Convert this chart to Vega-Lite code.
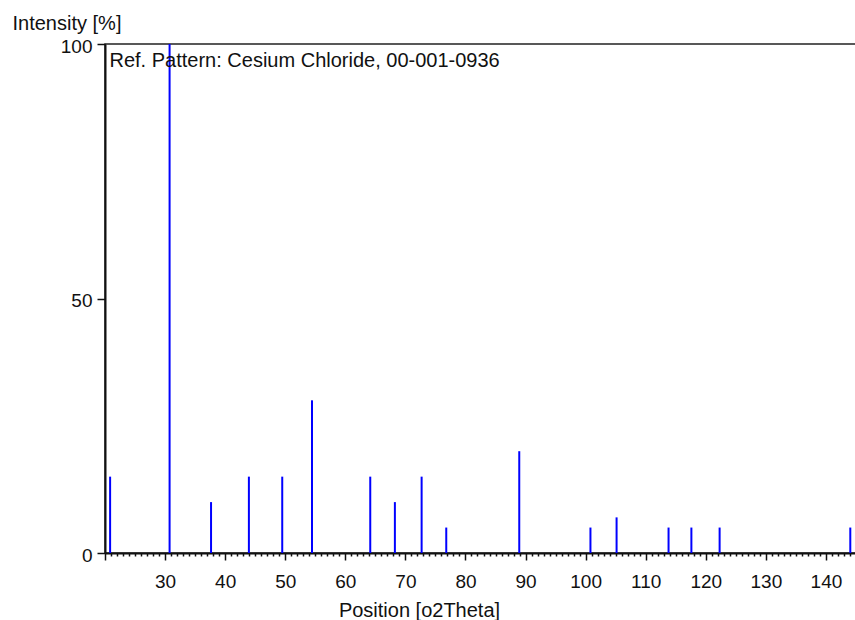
{
  "$schema": "https://vega.github.io/schema/vega-lite/v6.json",
  "width": 751,
  "height": 509,
  "autosize": {"type": "none"},
  "padding": {"left": 105, "top": 44, "right": 0, "bottom": 67},
  "background": "white",
  "config": {
    "view": {"stroke": "#222222", "strokeWidth": 1.5},
    "font": "Liberation Sans"
  },
  "encoding": {
    "x": {
      "field": "position",
      "type": "quantitative",
      "scale": {"domain": [20, 145], "nice": false, "zero": false},
      "axis": {
        "title": "Position [o2Theta]",
        "titleFontSize": 20,
        "titleFontWeight": "normal",
        "titleColor": "#111111",
        "titleX": 314,
        "titleY": 63,
        "titleAlign": "center",
        "titleBaseline": "alphabetic",
        "values": [20,21,22,23,24,25,26,27,28,29,30,31,32,33,34,35,36,37,38,39,40,41,42,43,44,45,46,47,48,49,50,51,52,53,54,55,56,57,58,59,60,61,62,63,64,65,66,67,68,69,70,71,72,73,74,75,76,77,78,79,80,81,82,83,84,85,86,87,88,89,90,91,92,93,94,95,96,97,98,99,100,101,102,103,104,105,106,107,108,109,110,111,112,113,114,115,116,117,118,119,120,121,122,123,124,125,126,127,128,129,130,131,132,133,134,135,136,137,138,139,140,141,142,143,144,145],
        "labelExpr": "datum.value % 10 === 0 && datum.value >= 30 ? datum.label : ''",
        "labelOverlap": false,
        "labelFlush": false,
        "labelBound": false,
        "labelFontSize": 19,
        "labelColor": "#111111",
        "labelBaseline": "alphabetic",
        "labelPadding": 27,
        "tickSize": {"condition": {"test": "datum.value % 10 === 0", "value": 7}, "value": 3},
        "tickColor": "#111111",
        "tickWidth": 1.5,
        "domainColor": "#111111",
        "domainWidth": 2,
        "grid": false
      }
    },
    "y": {
      "field": "intensity",
      "type": "quantitative",
      "scale": {"domain": [0, 100], "nice": false},
      "axis": {
        "title": "Intensity [%]",
        "titleFontSize": 20,
        "titleFontWeight": "normal",
        "titleColor": "#111111",
        "titleAngle": 0,
        "titleAlign": "left",
        "titleBaseline": "alphabetic",
        "titleX": -93,
        "titleY": -14.5,
        "values": [0, 50, 100],
        "labelFontSize": 19,
        "labelColor": "#111111",
        "labelPadding": 5,
        "labelOffset": 2,
        "tickSize": 8,
        "tickColor": "#111111",
        "tickWidth": 1.5,
        "domainColor": "#111111",
        "domainWidth": 2,
        "grid": false
      }
    }
  },
  "layer": [
    {
      "data": {
        "values": [
          {"position": 20.85, "intensity": 15},
          {"position": 30.75, "intensity": 100},
          {"position": 37.65, "intensity": 10},
          {"position": 43.95, "intensity": 15},
          {"position": 49.5, "intensity": 15},
          {"position": 54.45, "intensity": 30},
          {"position": 64.15, "intensity": 15},
          {"position": 68.25, "intensity": 10},
          {"position": 72.7, "intensity": 15},
          {"position": 76.8, "intensity": 5},
          {"position": 88.95, "intensity": 20},
          {"position": 100.8, "intensity": 5},
          {"position": 105.15, "intensity": 7},
          {"position": 113.8, "intensity": 5},
          {"position": 117.6, "intensity": 5},
          {"position": 122.3, "intensity": 5},
          {"position": 144.05, "intensity": 5}
        ]
      },
      "mark": {"type": "rule", "color": "#0000ff", "strokeWidth": 2},
      "encoding": {
        "y2": {"datum": 0}
      }
    },
    {
      "data": {"values": [{"label": "Ref. Pattern: Cesium Chloride, 00-001-0936", "position": 20, "intensity": 100}]},
      "mark": {"type": "text", "align": "left", "baseline": "alphabetic", "dx": 4.5, "dy": 23, "fontSize": 20, "font": "Liberation Sans", "color": "#111111"},
      "encoding": {
        "text": {"field": "label"}
      }
    }
  ]
}
